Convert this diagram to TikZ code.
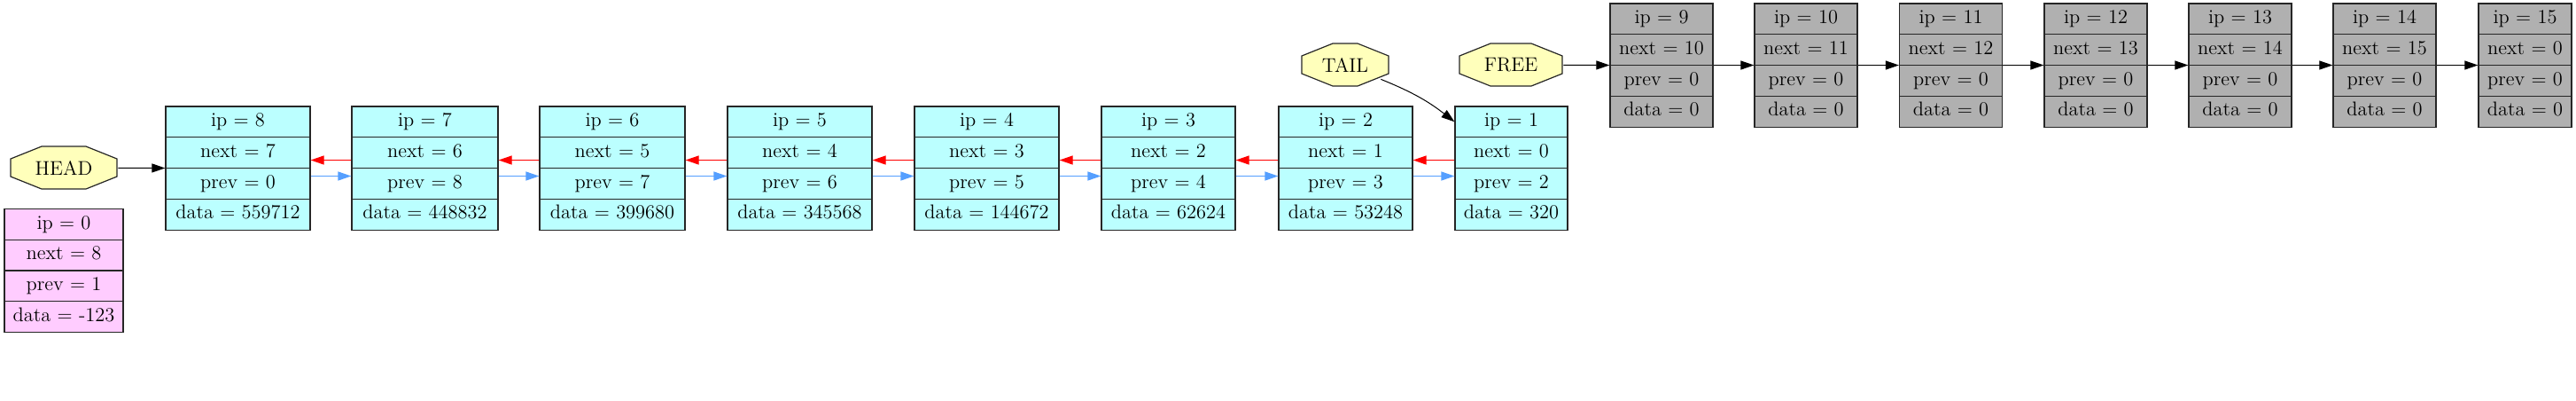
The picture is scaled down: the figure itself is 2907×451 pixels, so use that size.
\documentclass[tikz,border=0pt]{standalone}
\usetikzlibrary{shapes.multipart,arrows.meta}

\definecolor{livefill}{HTML}{BBFFFF}
\definecolor{freefill}{HTML}{B0B0B0}
\definecolor{nullfill}{HTML}{FFCCFF}
\definecolor{ptrfill}{HTML}{FFFFBB}
\definecolor{nextred}{HTML}{FF0000}
\definecolor{prevblue}{HTML}{559FFF}

\newcommand{\recfields}[4]{\strut ip = #1\nodepart{two}\strut next = #2\nodepart{three}\strut prev = #3\nodepart{four}\strut data = #4}

\tikzset{
    rec/.style={rectangle split, rectangle split parts=4, draw=black!85, line width=0.6pt,
        inner xsep=0pt, inner ysep=1.9pt, font=\fontsize{11.2}{13}\selectfont},
    live/.style={rec, fill=livefill},
    spare/.style={rec, fill=freefill, minimum width=58pt},
    dummy/.style={rec, fill=nullfill},
    ptr/.style={inner sep=0pt, minimum height=25pt, font=\fontsize{11.2}{13}\selectfont,
        path picture={
            \filldraw[fill=ptrfill, draw=black!85, line width=0.6pt]
                ([xshift=18pt,yshift=-0.5pt]path picture bounding box.north west)
                -- ([xshift=-18pt,yshift=-0.5pt]path picture bounding box.north east)
                -- ([xshift=-0.5pt,yshift=-7.5pt]path picture bounding box.north east)
                -- ([xshift=-0.5pt,yshift=7.5pt]path picture bounding box.south east)
                -- ([xshift=-18pt,yshift=0.5pt]path picture bounding box.south east)
                -- ([xshift=18pt,yshift=0.5pt]path picture bounding box.south west)
                -- ([xshift=0.5pt,yshift=7.5pt]path picture bounding box.south west)
                -- ([xshift=0.5pt,yshift=-7.5pt]path picture bounding box.north west)
                -- cycle;
        }},
    tip/.style={-{Triangle[length=7.5pt,width=5pt]}},
    lnk/.style={tip, line width=0.5pt, black},
    nxt/.style={tip, line width=0.6pt, nextred},
    prv/.style={tip, line width=0.6pt, prevblue}
}

\begin{document}
\begin{tikzpicture}[x=0.5pt, y=-0.5pt]
    \useasboundingbox (0,0) rectangle (2907,451);

    % pointers
    \node[ptr, minimum width=61pt] (head) at (72,189) {HEAD};
    \node[ptr, minimum width=50pt] (tail) at (1518,73) {TAIL};
    \node[ptr, minimum width=59pt] (free) at (1705,73) {FREE};

    % dummy element
    \node[dummy, minimum width=67pt] (n0) at (72,305) {\recfields{0}{8}{1}{-123}};

    % used elements
    \node[live, minimum width=81.5pt] (n8) at (268.5,189.5) {\recfields{8}{7}{0}{559712}};
    \node[live, minimum width=82.5pt] (n7) at (479.5,189.5) {\recfields{7}{6}{8}{448832}};
    \node[live, minimum width=82pt] (n6) at (691,189.5) {\recfields{6}{5}{7}{399680}};
    \node[live, minimum width=81.5pt] (n5) at (902.5,189.5) {\recfields{5}{4}{6}{345568}};
    \node[live, minimum width=81.5pt] (n4) at (1113.5,189.5) {\recfields{4}{3}{5}{144672}};
    \node[live, minimum width=75.5pt] (n3) at (1318.5,189.5) {\recfields{3}{2}{4}{62624}};
    \node[live, minimum width=75.5pt] (n2) at (1518.5,189.5) {\recfields{2}{1}{3}{53248}};
    \node[live, minimum width=63.5pt] (n1) at (1705.5,189.5) {\recfields{1}{0}{2}{320}};

    % free elements
    \node[spare] (n9) at (1875,73.5) {\recfields{9}{10}{0}{0}};
    \node[spare] (n10) at (2038,73.5) {\recfields{10}{11}{0}{0}};
    \node[spare] (n11) at (2201.5,73.5) {\recfields{11}{12}{0}{0}};
    \node[spare] (n12) at (2365,73.5) {\recfields{12}{13}{0}{0}};
    \node[spare] (n13) at (2528,73.5) {\recfields{13}{14}{0}{0}};
    \node[spare] (n14) at (2691,73.5) {\recfields{14}{15}{0}{0}};
    \node[spare, minimum width=52.5pt] (n15) at (2849.5,73.5) {\recfields{15}{0}{0}{0}};

    % links
    \draw[lnk] (head) -- (n8.two split west);
    \draw[lnk] ([xshift=-5pt,yshift=4.5pt]tail.south east) to[bend left=8] ([yshift=-9pt]n1.north west);
    \draw[lnk] (free) -- (n9.two split west);

    \draw[nxt] ([yshift=4.5pt]n7.two split west) -- ([yshift=4.5pt]n8.two split east);
    \draw[nxt] ([yshift=4.5pt]n6.two split west) -- ([yshift=4.5pt]n7.two split east);
    \draw[nxt] ([yshift=4.5pt]n5.two split west) -- ([yshift=4.5pt]n6.two split east);
    \draw[nxt] ([yshift=4.5pt]n4.two split west) -- ([yshift=4.5pt]n5.two split east);
    \draw[nxt] ([yshift=4.5pt]n3.two split west) -- ([yshift=4.5pt]n4.two split east);
    \draw[nxt] ([yshift=4.5pt]n2.two split west) -- ([yshift=4.5pt]n3.two split east);
    \draw[nxt] ([yshift=4.5pt]n1.two split west) -- ([yshift=4.5pt]n2.two split east);

    \draw[prv] ([yshift=-4.5pt]n8.two split east) -- ([yshift=-4.5pt]n7.two split west);
    \draw[prv] ([yshift=-4.5pt]n7.two split east) -- ([yshift=-4.5pt]n6.two split west);
    \draw[prv] ([yshift=-4.5pt]n6.two split east) -- ([yshift=-4.5pt]n5.two split west);
    \draw[prv] ([yshift=-4.5pt]n5.two split east) -- ([yshift=-4.5pt]n4.two split west);
    \draw[prv] ([yshift=-4.5pt]n4.two split east) -- ([yshift=-4.5pt]n3.two split west);
    \draw[prv] ([yshift=-4.5pt]n3.two split east) -- ([yshift=-4.5pt]n2.two split west);
    \draw[prv] ([yshift=-4.5pt]n2.two split east) -- ([yshift=-4.5pt]n1.two split west);

    \draw[lnk] (n9.two split east) -- (n10.two split west);
    \draw[lnk] (n10.two split east) -- (n11.two split west);
    \draw[lnk] (n11.two split east) -- (n12.two split west);
    \draw[lnk] (n12.two split east) -- (n13.two split west);
    \draw[lnk] (n13.two split east) -- (n14.two split west);
    \draw[lnk] (n14.two split east) -- (n15.two split west);
\end{tikzpicture}
\end{document}
